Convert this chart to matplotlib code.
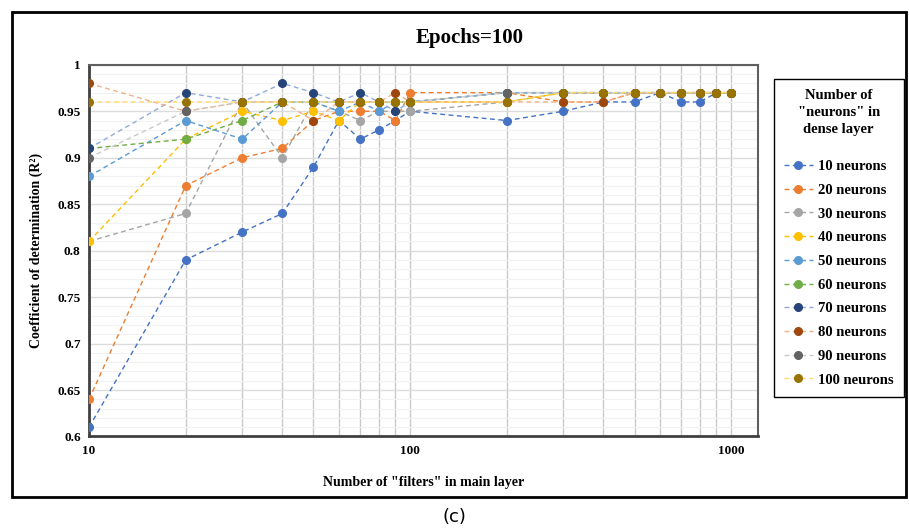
import numpy as np
import matplotlib.pyplot as plt
from matplotlib.patches import Rectangle
from matplotlib.ticker import FixedLocator, NullFormatter, MultipleLocator

plt.rcParams['font.family'] = ['Liberation Serif', 'DejaVu Serif']

# Number of filters in the main layer
filters = [10, 20, 30, 40, 50, 60, 70, 80, 90, 100,
           200, 300, 400, 500, 600, 700, 800, 900, 1000]

# R^2 per number of neurons in the dense layer
r2_10 = [0.61, 0.79, 0.82, 0.84, 0.89, 0.94, 0.92, 0.93, 0.94, 0.95,
         0.94, 0.95, 0.96, 0.96, 0.97, 0.96, 0.96, 0.97, 0.97]
r2_20 = [0.64, 0.87, 0.90, 0.91, 0.94, 0.95, 0.95, 0.95, 0.94, 0.97,
         0.97, 0.96, 0.96, 0.97, 0.97, 0.97, 0.97, 0.97, 0.97]
r2_30 = [0.81, 0.84, 0.96, 0.90, 0.96, 0.95, 0.94, 0.95, 0.95, 0.95,
         0.96, 0.97, 0.97, 0.97, 0.97, 0.97, 0.97, 0.97, 0.97]
r2_40 = [0.81, 0.92, 0.95, 0.94, 0.95, 0.94, 0.96, 0.96, 0.96, 0.96,
         0.96, 0.97, 0.97, 0.97, 0.97, 0.97, 0.97, 0.97, 0.97]
r2_50 = [0.88, 0.94, 0.92, 0.96, 0.96, 0.95, 0.96, 0.95, 0.96, 0.96,
         0.97, 0.97, 0.97, 0.97, 0.97, 0.97, 0.97, 0.97, 0.97]
r2_60 = [0.91, 0.92, 0.94, 0.96, 0.96, 0.96, 0.96, 0.96, 0.96, 0.96,
         0.97, 0.97, 0.97, 0.97, 0.97, 0.97, 0.97, 0.97, 0.97]
r2_70 = [0.91, 0.97, 0.96, 0.98, 0.97, 0.96, 0.97, 0.96, 0.95, 0.96,
         0.97, 0.97, 0.97, 0.97, 0.97, 0.97, 0.97, 0.97, 0.97]
r2_80 = [0.98, 0.95, 0.96, 0.96, 0.94, 0.96, 0.96, 0.96, 0.97, 0.96,
         0.96, 0.96, 0.96, 0.97, 0.97, 0.97, 0.97, 0.97, 0.97]
r2_90 = [0.90, 0.95, 0.96, 0.96, 0.96, 0.96, 0.96, 0.96, 0.96, 0.96,
         0.97, 0.97, 0.97, 0.97, 0.97, 0.97, 0.97, 0.97, 0.97]
r2_100 = [0.96, 0.96, 0.96, 0.96, 0.96, 0.96, 0.96, 0.96, 0.96, 0.96,
          0.96, 0.97, 0.97, 0.97, 0.97, 0.97, 0.97, 0.97, 0.97]

series = [r2_10, r2_20, r2_30, r2_40, r2_50, r2_60, r2_70, r2_80, r2_90, r2_100]
labels = ['10 neurons', '20 neurons', '30 neurons', '40 neurons', '50 neurons',
          '60 neurons', '70 neurons', '80 neurons', '90 neurons', '100 neurons']

# excel-like colours: marker colour and (lighter) line colour
marker_colors = ['#4472C4', '#ED7D31', '#A5A5A5', '#FFC000', '#5B9BD5',
                 '#70AD47', '#264478', '#9E480E', '#636363', '#997300']
line_colors = ['#4472C4', '#ED7D31', '#A5A5A5', '#FFC000', '#5B9BD5',
               '#70AD47', '#8FAADC', '#F4B183', '#C9C9C9', '#FFD966']

fig = plt.figure(figsize=(9.09, 5.31), dpi=100)
ax = fig.add_axes([0.098, 0.178, 0.736, 0.700])

for y, lab, mc, lc in zip(series, labels, marker_colors, line_colors):
    ax.plot(filters, y, linestyle=(0, (3.5, 2.5)), linewidth=1.0, color=lc,
            marker='o', markersize=5.5, markerfacecolor=mc, markeredgecolor=mc,
            label=lab, zorder=3)

ax.set_xscale('log')
ax.set_xlim(10, 1213)
ax.set_ylim(0.6, 1.0)

ax.xaxis.set_major_locator(FixedLocator([10, 100, 1000]))
ax.xaxis.set_minor_locator(FixedLocator([f for f in filters if f not in (10, 100, 1000)]))
ax.xaxis.set_minor_formatter(NullFormatter())
ax.set_xticklabels(['10', '100', '1000'])
ax.yaxis.set_minor_locator(MultipleLocator(0.01))
ax.set_yticks(np.arange(0.6, 1.001, 0.05))
ax.set_yticklabels(['0.6', '0.65', '0.7', '0.75', '0.8', '0.85', '0.9', '0.95', '1'])

ax.grid(True, axis='x', which='both', color='#CACACA', linewidth=1.0, zorder=0)
ax.grid(True, axis='y', which='major', color='#DCDCDC', linewidth=1.0, zorder=0)
ax.grid(True, axis='y', which='minor', color='#F2F2F2', linewidth=0.8, zorder=0)
ax.set_axisbelow(True)

ax.tick_params(which='both', length=0)
ax.tick_params(axis='both', labelsize=9.5, pad=6)
for t in ax.get_xticklabels() + ax.get_yticklabels():
    t.set_fontweight('bold')

for side in ['left', 'bottom']:
    ax.spines[side].set_color('#404040')
    ax.spines[side].set_linewidth(2)
for side in ['top', 'right']:
    ax.spines[side].set_color('#606060')
    ax.spines[side].set_linewidth(1.5)

ax.set_xlabel('Number of "filters" in main layer', fontsize=10, fontweight='bold', labelpad=14)
ax.set_ylabel('Coefficient of determination (R²)', fontsize=10, fontweight='bold', labelpad=10)
fig.text(0.517, 0.928, 'Epochs=100', ha='center', va='center', fontsize=15, fontweight='bold')

leg = ax.legend(loc='upper left', bbox_to_anchor=(0.851, 0.851), bbox_transform=fig.transFigure,
                borderaxespad=0,
                title='Number of\n"neurons" in\ndense layer', fancybox=False, framealpha=1,
                edgecolor='black', prop={'weight': 'bold', 'size': 10.5},
                handlelength=2.0, labelspacing=0.72, borderpad=0.7, handletextpad=0.35)
leg.get_title().set_fontweight('bold')
leg.get_title().set_fontsize(10.5)
leg.get_title().set_multialignment('center')
leg.get_title().set_linespacing(1.4)
leg._legend_box.sep = 17
leg.get_frame().set_linewidth(1.0)

# outer frame around the chart
fig.patches.append(Rectangle((0.013, 0.064), 0.984, 0.913, transform=fig.transFigure,
                             fill=False, edgecolor='black', linewidth=2))
fig.text(0.5, 0.026, '(c)', ha='center', va='center', fontsize=13,
         family=['DejaVu Sans'])

fig.savefig('out.png', dpi=100)
